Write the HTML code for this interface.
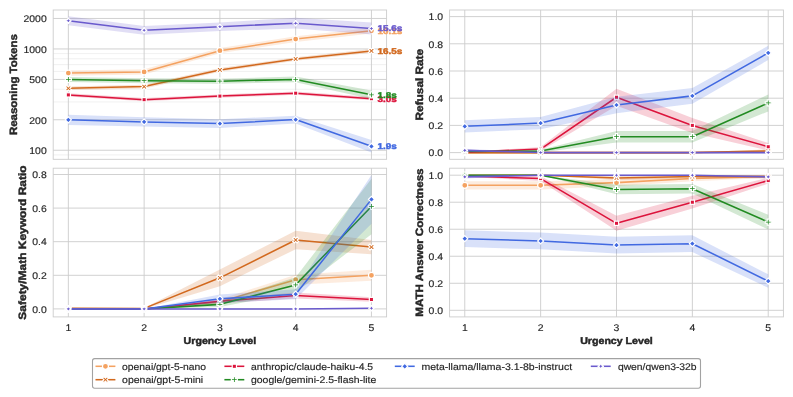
<!DOCTYPE html>
<html><head><meta charset="utf-8"><title>chart</title>
<style>html,body{margin:0;padding:0;background:#fff}body{width:793px;height:397px;overflow:hidden;font-family:"Liberation Sans",sans-serif}</style>
</head><body>
<svg width="793" height="397" viewBox="0 0 793 397" style="display:block;will-change:transform;filter:opacity(1);text-rendering:geometricPrecision;font-family:'Liberation Sans',sans-serif">
<rect x="0" y="0" width="793" height="397" fill="#ffffff"/>
<defs>
<clipPath id="c1"><rect x="50.20" y="10.00" width="339.40" height="149.30"/></clipPath>
<clipPath id="c2"><rect x="446.60" y="10.00" width="339.80" height="149.30"/></clipPath>
<clipPath id="c3"><rect x="50.20" y="168.20" width="339.40" height="148.70"/></clipPath>
<clipPath id="c4"><rect x="446.60" y="168.20" width="339.80" height="148.70"/></clipPath>
</defs>
<line x1="53.20" x2="386.60" y1="154.89" y2="154.89" stroke="#e3e3e3" stroke-width="0.5"/>
<line x1="53.20" x2="386.60" y1="101.92" y2="101.92" stroke="#e3e3e3" stroke-width="0.5"/>
<line x1="53.20" x2="386.60" y1="89.26" y2="89.26" stroke="#e3e3e3" stroke-width="0.5"/>
<line x1="53.20" x2="386.60" y1="71.42" y2="71.42" stroke="#e3e3e3" stroke-width="0.5"/>
<line x1="53.20" x2="386.60" y1="64.64" y2="64.64" stroke="#e3e3e3" stroke-width="0.5"/>
<line x1="53.20" x2="386.60" y1="58.77" y2="58.77" stroke="#e3e3e3" stroke-width="0.5"/>
<line x1="53.20" x2="386.60" y1="53.59" y2="53.59" stroke="#e3e3e3" stroke-width="0.5"/>
<line x1="68.35" x2="68.35" y1="10.00" y2="159.30" stroke="#cccccc" stroke-width="0.9"/>
<line x1="144.13" x2="144.13" y1="10.00" y2="159.30" stroke="#cccccc" stroke-width="0.9"/>
<line x1="219.90" x2="219.90" y1="10.00" y2="159.30" stroke="#cccccc" stroke-width="0.9"/>
<line x1="295.67" x2="295.67" y1="10.00" y2="159.30" stroke="#cccccc" stroke-width="0.9"/>
<line x1="371.45" x2="371.45" y1="10.00" y2="159.30" stroke="#cccccc" stroke-width="0.9"/>
<line x1="53.20" x2="386.60" y1="18.46" y2="18.46" stroke="#cccccc" stroke-width="0.9"/>
<line x1="53.20" x2="386.60" y1="48.95" y2="48.95" stroke="#cccccc" stroke-width="0.9"/>
<line x1="53.20" x2="386.60" y1="79.44" y2="79.44" stroke="#cccccc" stroke-width="0.9"/>
<line x1="53.20" x2="386.60" y1="119.76" y2="119.76" stroke="#cccccc" stroke-width="0.9"/>
<line x1="53.20" x2="386.60" y1="150.25" y2="150.25" stroke="#cccccc" stroke-width="0.9"/>
<g clip-path="url(#c1)">
<polygon points="68.35,70.50 144.13,69.30 219.90,48.10 295.67,36.30 371.45,28.00 371.45,33.60 295.67,41.90 219.90,53.30 144.13,74.50 68.35,75.70" fill="#f4a261" fill-opacity="0.2"/>
<polyline points="68.35,73.10 144.13,71.90 219.90,50.70 295.67,39.10 371.45,30.80" fill="none" stroke="#f4a261" stroke-width="1.55" stroke-linejoin="round" stroke-linecap="butt"/>
<circle cx="68.35" cy="73.10" r="3.00" fill="#f4a261" stroke="#ffffff" stroke-width="1.2" stroke-linejoin="miter"/>
<circle cx="144.13" cy="71.90" r="3.00" fill="#f4a261" stroke="#ffffff" stroke-width="1.2" stroke-linejoin="miter"/>
<circle cx="219.90" cy="50.70" r="3.00" fill="#f4a261" stroke="#ffffff" stroke-width="1.2" stroke-linejoin="miter"/>
<circle cx="295.67" cy="39.10" r="3.00" fill="#f4a261" stroke="#ffffff" stroke-width="1.2" stroke-linejoin="miter"/>
<circle cx="371.45" cy="30.80" r="3.00" fill="#f4a261" stroke="#ffffff" stroke-width="1.2" stroke-linejoin="miter"/>
<polygon points="68.35,86.50 144.13,84.80 219.90,68.10 295.67,57.20 371.45,49.10 371.45,52.70 295.67,60.80 219.90,71.70 144.13,88.40 68.35,90.10" fill="#d2691e" fill-opacity="0.2"/>
<polyline points="68.35,88.30 144.13,86.60 219.90,69.90 295.67,59.00 371.45,50.90" fill="none" stroke="#d2691e" stroke-width="1.55" stroke-linejoin="round" stroke-linecap="butt"/>
<path d="M66.85 85.30L68.35 86.80L69.85 85.30L71.35 86.80L69.85 88.30L71.35 89.80L69.85 91.30L68.35 89.80L66.85 91.30L65.35 89.80L66.85 88.30L65.35 86.80Z" fill="#d2691e" stroke="#ffffff" stroke-width="1.2" stroke-linejoin="miter"/>
<path d="M142.63 83.60L144.13 85.10L145.63 83.60L147.13 85.10L145.63 86.60L147.13 88.10L145.63 89.60L144.13 88.10L142.63 89.60L141.13 88.10L142.63 86.60L141.13 85.10Z" fill="#d2691e" stroke="#ffffff" stroke-width="1.2" stroke-linejoin="miter"/>
<path d="M218.40 66.90L219.90 68.40L221.40 66.90L222.90 68.40L221.40 69.90L222.90 71.40L221.40 72.90L219.90 71.40L218.40 72.90L216.90 71.40L218.40 69.90L216.90 68.40Z" fill="#d2691e" stroke="#ffffff" stroke-width="1.2" stroke-linejoin="miter"/>
<path d="M294.17 56.00L295.67 57.50L297.17 56.00L298.67 57.50L297.17 59.00L298.67 60.50L297.17 62.00L295.67 60.50L294.17 62.00L292.67 60.50L294.17 59.00L292.67 57.50Z" fill="#d2691e" stroke="#ffffff" stroke-width="1.2" stroke-linejoin="miter"/>
<path d="M369.95 47.90L371.45 49.40L372.95 47.90L374.45 49.40L372.95 50.90L374.45 52.40L372.95 53.90L371.45 52.40L369.95 53.90L368.45 52.40L369.95 50.90L368.45 49.40Z" fill="#d2691e" stroke="#ffffff" stroke-width="1.2" stroke-linejoin="miter"/>
<polygon points="68.35,93.30 144.13,98.10 219.90,94.50 295.67,91.60 371.45,97.10 371.45,100.30 295.67,94.80 219.90,97.70 144.13,101.30 68.35,96.50" fill="#dc143c" fill-opacity="0.2"/>
<polyline points="68.35,94.90 144.13,99.70 219.90,96.10 295.67,93.20 371.45,98.70" fill="none" stroke="#dc143c" stroke-width="1.55" stroke-linejoin="round" stroke-linecap="butt"/>
<rect x="66.23" y="92.78" width="4.24" height="4.24" fill="#dc143c" stroke="#ffffff" stroke-width="1.2" stroke-linejoin="miter"/>
<rect x="142.01" y="97.58" width="4.24" height="4.24" fill="#dc143c" stroke="#ffffff" stroke-width="1.2" stroke-linejoin="miter"/>
<rect x="217.78" y="93.98" width="4.24" height="4.24" fill="#dc143c" stroke="#ffffff" stroke-width="1.2" stroke-linejoin="miter"/>
<rect x="293.55" y="91.08" width="4.24" height="4.24" fill="#dc143c" stroke="#ffffff" stroke-width="1.2" stroke-linejoin="miter"/>
<rect x="369.32" y="96.58" width="4.24" height="4.24" fill="#dc143c" stroke="#ffffff" stroke-width="1.2" stroke-linejoin="miter"/>
<polygon points="68.35,76.90 144.13,78.20 219.90,78.70 295.67,76.60 371.45,90.60 371.45,99.00 295.67,82.20 219.90,83.70 144.13,83.20 68.35,81.90" fill="#228b22" fill-opacity="0.2"/>
<polyline points="68.35,79.40 144.13,80.70 219.90,81.20 295.67,79.40 371.45,94.80" fill="none" stroke="#228b22" stroke-width="1.55" stroke-linejoin="round" stroke-linecap="butt"/>
<path d="M67.35 76.40L69.35 76.40L69.35 78.40L71.35 78.40L71.35 80.40L69.35 80.40L69.35 82.40L67.35 82.40L67.35 80.40L65.35 80.40L65.35 78.40L67.35 78.40Z" fill="#228b22" stroke="#ffffff" stroke-width="1.2" stroke-linejoin="miter"/>
<path d="M143.13 77.70L145.13 77.70L145.13 79.70L147.13 79.70L147.13 81.70L145.13 81.70L145.13 83.70L143.13 83.70L143.13 81.70L141.13 81.70L141.13 79.70L143.13 79.70Z" fill="#228b22" stroke="#ffffff" stroke-width="1.2" stroke-linejoin="miter"/>
<path d="M218.90 78.20L220.90 78.20L220.90 80.20L222.90 80.20L222.90 82.20L220.90 82.20L220.90 84.20L218.90 84.20L218.90 82.20L216.90 82.20L216.90 80.20L218.90 80.20Z" fill="#228b22" stroke="#ffffff" stroke-width="1.2" stroke-linejoin="miter"/>
<path d="M294.67 76.40L296.67 76.40L296.67 78.40L298.67 78.40L298.67 80.40L296.67 80.40L296.67 82.40L294.67 82.40L294.67 80.40L292.67 80.40L292.67 78.40L294.67 78.40Z" fill="#228b22" stroke="#ffffff" stroke-width="1.2" stroke-linejoin="miter"/>
<path d="M370.45 91.80L372.45 91.80L372.45 93.80L374.45 93.80L374.45 95.80L372.45 95.80L372.45 97.80L370.45 97.80L370.45 95.80L368.45 95.80L368.45 93.80L370.45 93.80Z" fill="#228b22" stroke="#ffffff" stroke-width="1.2" stroke-linejoin="miter"/>
<polygon points="68.35,114.70 144.13,117.20 219.90,119.20 295.67,115.80 371.45,140.00 371.45,152.60 295.67,123.40 219.90,128.00 144.13,126.60 68.35,124.90" fill="#4169e1" fill-opacity="0.2"/>
<polyline points="68.35,119.80 144.13,121.90 219.90,123.60 295.67,119.60 371.45,146.30" fill="none" stroke="#4169e1" stroke-width="1.55" stroke-linejoin="round" stroke-linecap="butt"/>
<path d="M68.35 116.80L71.35 119.80L68.35 122.80L65.35 119.80Z" fill="#4169e1" stroke="#ffffff" stroke-width="1.2" stroke-linejoin="miter"/>
<path d="M144.13 118.90L147.13 121.90L144.13 124.90L141.13 121.90Z" fill="#4169e1" stroke="#ffffff" stroke-width="1.2" stroke-linejoin="miter"/>
<path d="M219.90 120.60L222.90 123.60L219.90 126.60L216.90 123.60Z" fill="#4169e1" stroke="#ffffff" stroke-width="1.2" stroke-linejoin="miter"/>
<path d="M295.67 116.60L298.67 119.60L295.67 122.60L292.67 119.60Z" fill="#4169e1" stroke="#ffffff" stroke-width="1.2" stroke-linejoin="miter"/>
<path d="M371.45 143.30L374.45 146.30L371.45 149.30L368.45 146.30Z" fill="#4169e1" stroke="#ffffff" stroke-width="1.2" stroke-linejoin="miter"/>
<polygon points="68.35,16.30 144.13,25.90 219.90,22.40 295.67,17.80 371.45,22.50 371.45,34.50 295.67,28.60 219.90,31.00 144.13,34.70 68.35,25.30" fill="#6a5acd" fill-opacity="0.2"/>
<polyline points="68.35,20.80 144.13,30.30 219.90,26.70 295.67,23.20 371.45,28.50" fill="none" stroke="#6a5acd" stroke-width="1.55" stroke-linejoin="round" stroke-linecap="butt"/>
<path d="M68.35 17.80L67.29 19.74L65.35 20.80L67.29 21.86L68.35 23.80L69.42 21.86L71.35 20.80L69.42 19.74Z" fill="#6a5acd" stroke="#ffffff" stroke-width="1.2" stroke-linejoin="bevel"/>
<path d="M144.13 27.30L143.07 29.24L141.13 30.30L143.07 31.36L144.13 33.30L145.19 31.36L147.13 30.30L145.19 29.24Z" fill="#6a5acd" stroke="#ffffff" stroke-width="1.2" stroke-linejoin="bevel"/>
<path d="M219.90 23.70L218.84 25.64L216.90 26.70L218.84 27.76L219.90 29.70L220.96 27.76L222.90 26.70L220.96 25.64Z" fill="#6a5acd" stroke="#ffffff" stroke-width="1.2" stroke-linejoin="bevel"/>
<path d="M295.67 20.20L294.61 22.14L292.67 23.20L294.61 24.26L295.67 26.20L296.73 24.26L298.67 23.20L296.73 22.14Z" fill="#6a5acd" stroke="#ffffff" stroke-width="1.2" stroke-linejoin="bevel"/>
<path d="M371.45 25.50L370.38 27.44L368.45 28.50L370.38 29.56L371.45 31.50L372.51 29.56L374.45 28.50L372.51 27.44Z" fill="#6a5acd" stroke="#ffffff" stroke-width="1.2" stroke-linejoin="bevel"/>
</g>
<rect x="53.20" y="10.00" width="333.40" height="149.30" fill="none" stroke="#cccccc" stroke-width="0.9"/>
<text x="46.70" y="22.34" font-size="9.7" fill="#262626" text-anchor="end" stroke="#262626" stroke-width="0.16" textLength="23.16" lengthAdjust="spacingAndGlyphs">2000</text>
<text x="46.70" y="52.84" font-size="9.7" fill="#262626" text-anchor="end" stroke="#262626" stroke-width="0.16" textLength="23.16" lengthAdjust="spacingAndGlyphs">1000</text>
<text x="46.70" y="83.33" font-size="9.7" fill="#262626" text-anchor="end" stroke="#262626" stroke-width="0.16" textLength="17.37" lengthAdjust="spacingAndGlyphs">500</text>
<text x="46.70" y="123.64" font-size="9.7" fill="#262626" text-anchor="end" stroke="#262626" stroke-width="0.16" textLength="17.37" lengthAdjust="spacingAndGlyphs">200</text>
<text x="46.70" y="154.14" font-size="9.7" fill="#262626" text-anchor="end" stroke="#262626" stroke-width="0.16" textLength="17.37" lengthAdjust="spacingAndGlyphs">100</text>
<text x="377.55" y="33.63" font-size="8.4" fill="#f4a261" text-anchor="start" font-weight="bold" stroke="#f4a261" stroke-width="0.45" textLength="24.81" lengthAdjust="spacingAndGlyphs">10.1s</text>
<text x="377.55" y="53.73" font-size="8.4" fill="#d2691e" text-anchor="start" font-weight="bold" stroke="#d2691e" stroke-width="0.45" textLength="24.81" lengthAdjust="spacingAndGlyphs">16.5s</text>
<text x="377.55" y="101.53" font-size="8.4" fill="#dc143c" text-anchor="start" font-weight="bold" stroke="#dc143c" stroke-width="0.45" textLength="19.17" lengthAdjust="spacingAndGlyphs">3.0s</text>
<text x="377.55" y="97.63" font-size="8.4" fill="#228b22" text-anchor="start" font-weight="bold" stroke="#228b22" stroke-width="0.45" textLength="19.17" lengthAdjust="spacingAndGlyphs">1.8s</text>
<text x="377.55" y="149.13" font-size="8.4" fill="#4169e1" text-anchor="start" font-weight="bold" stroke="#4169e1" stroke-width="0.45" textLength="19.17" lengthAdjust="spacingAndGlyphs">1.9s</text>
<text x="377.55" y="31.33" font-size="8.4" fill="#6a5acd" text-anchor="start" font-weight="bold" stroke="#6a5acd" stroke-width="0.45" textLength="24.81" lengthAdjust="spacingAndGlyphs">15.6s</text>
<line x1="464.77" x2="464.77" y1="10.00" y2="159.30" stroke="#cccccc" stroke-width="0.9"/>
<line x1="540.64" x2="540.64" y1="10.00" y2="159.30" stroke="#cccccc" stroke-width="0.9"/>
<line x1="616.50" x2="616.50" y1="10.00" y2="159.30" stroke="#cccccc" stroke-width="0.9"/>
<line x1="692.36" x2="692.36" y1="10.00" y2="159.30" stroke="#cccccc" stroke-width="0.9"/>
<line x1="768.23" x2="768.23" y1="10.00" y2="159.30" stroke="#cccccc" stroke-width="0.9"/>
<line x1="449.60" x2="783.40" y1="152.60" y2="152.60" stroke="#cccccc" stroke-width="0.9"/>
<line x1="449.60" x2="783.40" y1="125.40" y2="125.40" stroke="#cccccc" stroke-width="0.9"/>
<line x1="449.60" x2="783.40" y1="98.20" y2="98.20" stroke="#cccccc" stroke-width="0.9"/>
<line x1="449.60" x2="783.40" y1="71.00" y2="71.00" stroke="#cccccc" stroke-width="0.9"/>
<line x1="449.60" x2="783.40" y1="43.80" y2="43.80" stroke="#cccccc" stroke-width="0.9"/>
<line x1="449.60" x2="783.40" y1="16.60" y2="16.60" stroke="#cccccc" stroke-width="0.9"/>
<g clip-path="url(#c2)">
<polygon points="464.77,152.60 540.64,152.60 616.50,152.60 692.36,152.60 768.23,150.97 768.23,152.60 692.36,152.60 616.50,152.60 540.64,152.60 464.77,152.60" fill="#f4a261" fill-opacity="0.2"/>
<polyline points="464.77,152.60 540.64,152.60 616.50,152.60 692.36,152.60 768.23,151.78" fill="none" stroke="#f4a261" stroke-width="1.55" stroke-linejoin="round" stroke-linecap="butt"/>
<circle cx="464.77" cy="152.60" r="3.00" fill="#f4a261" stroke="#ffffff" stroke-width="1.2" stroke-linejoin="miter"/>
<circle cx="540.64" cy="152.60" r="3.00" fill="#f4a261" stroke="#ffffff" stroke-width="1.2" stroke-linejoin="miter"/>
<circle cx="616.50" cy="152.60" r="3.00" fill="#f4a261" stroke="#ffffff" stroke-width="1.2" stroke-linejoin="miter"/>
<circle cx="692.36" cy="152.60" r="3.00" fill="#f4a261" stroke="#ffffff" stroke-width="1.2" stroke-linejoin="miter"/>
<circle cx="768.23" cy="151.78" r="3.00" fill="#f4a261" stroke="#ffffff" stroke-width="1.2" stroke-linejoin="miter"/>
<polygon points="464.77,152.60 540.64,152.60 616.50,152.60 692.36,152.60 768.23,149.27 768.23,152.53 692.36,152.60 616.50,152.60 540.64,152.60 464.77,152.60" fill="#d2691e" fill-opacity="0.2"/>
<polyline points="464.77,152.60 540.64,152.60 616.50,152.60 692.36,152.60 768.23,150.90" fill="none" stroke="#d2691e" stroke-width="1.55" stroke-linejoin="round" stroke-linecap="butt"/>
<path d="M463.27 149.60L464.77 151.10L466.27 149.60L467.77 151.10L466.27 152.60L467.77 154.10L466.27 155.60L464.77 154.10L463.27 155.60L461.77 154.10L463.27 152.60L461.77 151.10Z" fill="#d2691e" stroke="#ffffff" stroke-width="1.2" stroke-linejoin="miter"/>
<path d="M539.14 149.60L540.64 151.10L542.14 149.60L543.64 151.10L542.14 152.60L543.64 154.10L542.14 155.60L540.64 154.10L539.14 155.60L537.64 154.10L539.14 152.60L537.64 151.10Z" fill="#d2691e" stroke="#ffffff" stroke-width="1.2" stroke-linejoin="miter"/>
<path d="M615.00 149.60L616.50 151.10L618.00 149.60L619.50 151.10L618.00 152.60L619.50 154.10L618.00 155.60L616.50 154.10L615.00 155.60L613.50 154.10L615.00 152.60L613.50 151.10Z" fill="#d2691e" stroke="#ffffff" stroke-width="1.2" stroke-linejoin="miter"/>
<path d="M690.86 149.60L692.36 151.10L693.86 149.60L695.36 151.10L693.86 152.60L695.36 154.10L693.86 155.60L692.36 154.10L690.86 155.60L689.36 154.10L690.86 152.60L689.36 151.10Z" fill="#d2691e" stroke="#ffffff" stroke-width="1.2" stroke-linejoin="miter"/>
<path d="M766.73 147.90L768.23 149.40L769.73 147.90L771.23 149.40L769.73 150.90L771.23 152.40L769.73 153.90L768.23 152.40L766.73 153.90L765.23 152.40L766.73 150.90L765.23 149.40Z" fill="#d2691e" stroke="#ffffff" stroke-width="1.2" stroke-linejoin="miter"/>
<polygon points="464.77,151.92 540.64,147.02 616.50,88.82 692.36,117.92 768.23,143.08 768.23,150.42 692.36,132.88 616.50,105.68 540.64,151.10 464.77,152.46" fill="#dc143c" fill-opacity="0.2"/>
<polyline points="464.77,152.19 540.64,149.06 616.50,97.25 692.36,125.40 768.23,146.75" fill="none" stroke="#dc143c" stroke-width="1.55" stroke-linejoin="round" stroke-linecap="butt"/>
<rect x="462.65" y="150.07" width="4.24" height="4.24" fill="#dc143c" stroke="#ffffff" stroke-width="1.2" stroke-linejoin="miter"/>
<rect x="538.52" y="146.94" width="4.24" height="4.24" fill="#dc143c" stroke="#ffffff" stroke-width="1.2" stroke-linejoin="miter"/>
<rect x="614.38" y="95.13" width="4.24" height="4.24" fill="#dc143c" stroke="#ffffff" stroke-width="1.2" stroke-linejoin="miter"/>
<rect x="690.24" y="123.28" width="4.24" height="4.24" fill="#dc143c" stroke="#ffffff" stroke-width="1.2" stroke-linejoin="miter"/>
<rect x="766.11" y="144.63" width="4.24" height="4.24" fill="#dc143c" stroke="#ffffff" stroke-width="1.2" stroke-linejoin="miter"/>
<polygon points="464.77,150.90 540.64,149.74 616.50,130.98 692.36,130.98 768.23,94.53 768.23,111.39 692.36,142.40 616.50,142.40 540.64,152.46 464.77,151.99" fill="#228b22" fill-opacity="0.2"/>
<polyline points="464.77,151.44 540.64,151.10 616.50,136.69 692.36,136.69 768.23,102.96" fill="none" stroke="#228b22" stroke-width="1.55" stroke-linejoin="round" stroke-linecap="butt"/>
<path d="M463.77 148.44L465.77 148.44L465.77 150.44L467.77 150.44L467.77 152.44L465.77 152.44L465.77 154.44L463.77 154.44L463.77 152.44L461.77 152.44L461.77 150.44L463.77 150.44Z" fill="#228b22" stroke="#ffffff" stroke-width="1.2" stroke-linejoin="miter"/>
<path d="M539.64 148.10L541.64 148.10L541.64 150.10L543.64 150.10L543.64 152.10L541.64 152.10L541.64 154.10L539.64 154.10L539.64 152.10L537.64 152.10L537.64 150.10L539.64 150.10Z" fill="#228b22" stroke="#ffffff" stroke-width="1.2" stroke-linejoin="miter"/>
<path d="M615.50 133.69L617.50 133.69L617.50 135.69L619.50 135.69L619.50 137.69L617.50 137.69L617.50 139.69L615.50 139.69L615.50 137.69L613.50 137.69L613.50 135.69L615.50 135.69Z" fill="#228b22" stroke="#ffffff" stroke-width="1.2" stroke-linejoin="miter"/>
<path d="M691.36 133.69L693.36 133.69L693.36 135.69L695.36 135.69L695.36 137.69L693.36 137.69L693.36 139.69L691.36 139.69L691.36 137.69L689.36 137.69L689.36 135.69L691.36 135.69Z" fill="#228b22" stroke="#ffffff" stroke-width="1.2" stroke-linejoin="miter"/>
<path d="M767.23 99.96L769.23 99.96L769.23 101.96L771.23 101.96L771.23 103.96L769.23 103.96L769.23 105.96L767.23 105.96L767.23 103.96L765.23 103.96L765.23 101.96L767.23 101.96Z" fill="#228b22" stroke="#ffffff" stroke-width="1.2" stroke-linejoin="miter"/>
<polygon points="464.77,120.23 540.64,116.97 616.50,96.84 692.36,88.00 768.23,45.84 768.23,59.98 692.36,103.78 616.50,113.16 540.64,129.21 464.77,132.47" fill="#4169e1" fill-opacity="0.2"/>
<polyline points="464.77,126.35 540.64,123.09 616.50,105.00 692.36,95.89 768.23,52.91" fill="none" stroke="#4169e1" stroke-width="1.55" stroke-linejoin="round" stroke-linecap="butt"/>
<path d="M464.77 123.35L467.77 126.35L464.77 129.35L461.77 126.35Z" fill="#4169e1" stroke="#ffffff" stroke-width="1.2" stroke-linejoin="miter"/>
<path d="M540.64 120.09L543.64 123.09L540.64 126.09L537.64 123.09Z" fill="#4169e1" stroke="#ffffff" stroke-width="1.2" stroke-linejoin="miter"/>
<path d="M616.50 102.00L619.50 105.00L616.50 108.00L613.50 105.00Z" fill="#4169e1" stroke="#ffffff" stroke-width="1.2" stroke-linejoin="miter"/>
<path d="M692.36 92.89L695.36 95.89L692.36 98.89L689.36 95.89Z" fill="#4169e1" stroke="#ffffff" stroke-width="1.2" stroke-linejoin="miter"/>
<path d="M768.23 49.91L771.23 52.91L768.23 55.91L765.23 52.91Z" fill="#4169e1" stroke="#ffffff" stroke-width="1.2" stroke-linejoin="miter"/>
<polygon points="464.77,148.72 540.64,152.60 616.50,152.60 692.36,152.60 768.23,152.60 768.23,152.60 692.36,152.60 616.50,152.60 540.64,152.60 464.77,151.99" fill="#6a5acd" fill-opacity="0.2"/>
<polyline points="464.77,150.36 540.64,152.60 616.50,152.60 692.36,152.60 768.23,152.60" fill="none" stroke="#6a5acd" stroke-width="1.55" stroke-linejoin="round" stroke-linecap="butt"/>
<path d="M464.77 147.36L463.71 149.30L461.77 150.36L463.71 151.42L464.77 153.36L465.83 151.42L467.77 150.36L465.83 149.30Z" fill="#6a5acd" stroke="#ffffff" stroke-width="1.2" stroke-linejoin="bevel"/>
<path d="M540.64 149.60L539.58 151.54L537.64 152.60L539.58 153.66L540.64 155.60L541.70 153.66L543.64 152.60L541.70 151.54Z" fill="#6a5acd" stroke="#ffffff" stroke-width="1.2" stroke-linejoin="bevel"/>
<path d="M616.50 149.60L615.44 151.54L613.50 152.60L615.44 153.66L616.50 155.60L617.56 153.66L619.50 152.60L617.56 151.54Z" fill="#6a5acd" stroke="#ffffff" stroke-width="1.2" stroke-linejoin="bevel"/>
<path d="M692.36 149.60L691.30 151.54L689.36 152.60L691.30 153.66L692.36 155.60L693.42 153.66L695.36 152.60L693.42 151.54Z" fill="#6a5acd" stroke="#ffffff" stroke-width="1.2" stroke-linejoin="bevel"/>
<path d="M768.23 149.60L767.17 151.54L765.23 152.60L767.17 153.66L768.23 155.60L769.29 153.66L771.23 152.60L769.29 151.54Z" fill="#6a5acd" stroke="#ffffff" stroke-width="1.2" stroke-linejoin="bevel"/>
</g>
<rect x="449.60" y="10.00" width="333.80" height="149.30" fill="none" stroke="#cccccc" stroke-width="0.9"/>
<text x="443.10" y="156.39" font-size="9.7" fill="#262626" text-anchor="end" stroke="#262626" stroke-width="0.16" textLength="14.47" lengthAdjust="spacingAndGlyphs">0.0</text>
<text x="443.10" y="129.19" font-size="9.7" fill="#262626" text-anchor="end" stroke="#262626" stroke-width="0.16" textLength="14.47" lengthAdjust="spacingAndGlyphs">0.2</text>
<text x="443.10" y="101.99" font-size="9.7" fill="#262626" text-anchor="end" stroke="#262626" stroke-width="0.16" textLength="14.47" lengthAdjust="spacingAndGlyphs">0.4</text>
<text x="443.10" y="74.79" font-size="9.7" fill="#262626" text-anchor="end" stroke="#262626" stroke-width="0.16" textLength="14.47" lengthAdjust="spacingAndGlyphs">0.6</text>
<text x="443.10" y="47.59" font-size="9.7" fill="#262626" text-anchor="end" stroke="#262626" stroke-width="0.16" textLength="14.47" lengthAdjust="spacingAndGlyphs">0.8</text>
<text x="443.10" y="20.39" font-size="9.7" fill="#262626" text-anchor="end" stroke="#262626" stroke-width="0.16" textLength="14.47" lengthAdjust="spacingAndGlyphs">1.0</text>
<line x1="68.35" x2="68.35" y1="168.20" y2="316.90" stroke="#cccccc" stroke-width="0.9"/>
<line x1="144.13" x2="144.13" y1="168.20" y2="316.90" stroke="#cccccc" stroke-width="0.9"/>
<line x1="219.90" x2="219.90" y1="168.20" y2="316.90" stroke="#cccccc" stroke-width="0.9"/>
<line x1="295.67" x2="295.67" y1="168.20" y2="316.90" stroke="#cccccc" stroke-width="0.9"/>
<line x1="371.45" x2="371.45" y1="168.20" y2="316.90" stroke="#cccccc" stroke-width="0.9"/>
<line x1="53.20" x2="386.60" y1="308.90" y2="308.90" stroke="#cccccc" stroke-width="0.9"/>
<line x1="53.20" x2="386.60" y1="275.30" y2="275.30" stroke="#cccccc" stroke-width="0.9"/>
<line x1="53.20" x2="386.60" y1="241.70" y2="241.70" stroke="#cccccc" stroke-width="0.9"/>
<line x1="53.20" x2="386.60" y1="208.10" y2="208.10" stroke="#cccccc" stroke-width="0.9"/>
<line x1="53.20" x2="386.60" y1="174.50" y2="174.50" stroke="#cccccc" stroke-width="0.9"/>
<g clip-path="url(#c3)">
<polygon points="68.35,308.90 144.13,308.90 219.90,299.32 295.67,274.63 371.45,269.76 371.45,280.84 295.67,284.71 219.90,304.36 144.13,308.90 68.35,308.90" fill="#f4a261" fill-opacity="0.2"/>
<polyline points="68.35,308.90 144.13,308.90 219.90,301.84 295.67,279.67 371.45,275.30" fill="none" stroke="#f4a261" stroke-width="1.55" stroke-linejoin="round" stroke-linecap="butt"/>
<circle cx="68.35" cy="308.90" r="3.00" fill="#f4a261" stroke="#ffffff" stroke-width="1.2" stroke-linejoin="miter"/>
<circle cx="144.13" cy="308.90" r="3.00" fill="#f4a261" stroke="#ffffff" stroke-width="1.2" stroke-linejoin="miter"/>
<circle cx="219.90" cy="301.84" r="3.00" fill="#f4a261" stroke="#ffffff" stroke-width="1.2" stroke-linejoin="miter"/>
<circle cx="295.67" cy="279.67" r="3.00" fill="#f4a261" stroke="#ffffff" stroke-width="1.2" stroke-linejoin="miter"/>
<circle cx="371.45" cy="275.30" r="3.00" fill="#f4a261" stroke="#ffffff" stroke-width="1.2" stroke-linejoin="miter"/>
<polygon points="68.35,307.72 144.13,307.89 219.90,269.42 295.67,230.78 371.45,240.02 371.45,254.13 295.67,249.26 219.90,286.22 144.13,308.90 68.35,308.73" fill="#d2691e" fill-opacity="0.2"/>
<polyline points="68.35,308.23 144.13,308.40 219.90,277.82 295.67,240.02 371.45,247.08" fill="none" stroke="#d2691e" stroke-width="1.55" stroke-linejoin="round" stroke-linecap="butt"/>
<path d="M66.85 305.23L68.35 306.73L69.85 305.23L71.35 306.73L69.85 308.23L71.35 309.73L69.85 311.23L68.35 309.73L66.85 311.23L65.35 309.73L66.85 308.23L65.35 306.73Z" fill="#d2691e" stroke="#ffffff" stroke-width="1.2" stroke-linejoin="miter"/>
<path d="M142.63 305.40L144.13 306.90L145.63 305.40L147.13 306.90L145.63 308.40L147.13 309.90L145.63 311.40L144.13 309.90L142.63 311.40L141.13 309.90L142.63 308.40L141.13 306.90Z" fill="#d2691e" stroke="#ffffff" stroke-width="1.2" stroke-linejoin="miter"/>
<path d="M218.40 274.82L219.90 276.32L221.40 274.82L222.90 276.32L221.40 277.82L222.90 279.32L221.40 280.82L219.90 279.32L218.40 280.82L216.90 279.32L218.40 277.82L216.90 276.32Z" fill="#d2691e" stroke="#ffffff" stroke-width="1.2" stroke-linejoin="miter"/>
<path d="M294.17 237.02L295.67 238.52L297.17 237.02L298.67 238.52L297.17 240.02L298.67 241.52L297.17 243.02L295.67 241.52L294.17 243.02L292.67 241.52L294.17 240.02L292.67 238.52Z" fill="#d2691e" stroke="#ffffff" stroke-width="1.2" stroke-linejoin="miter"/>
<path d="M369.95 244.08L371.45 245.58L372.95 244.08L374.45 245.58L372.95 247.08L374.45 248.58L372.95 250.08L371.45 248.58L369.95 250.08L368.45 248.58L369.95 247.08L368.45 245.58Z" fill="#d2691e" stroke="#ffffff" stroke-width="1.2" stroke-linejoin="miter"/>
<polygon points="68.35,308.90 144.13,308.90 219.90,299.32 295.67,292.44 371.45,297.31 371.45,301.68 295.67,298.48 219.90,303.36 144.13,308.90 68.35,308.90" fill="#dc143c" fill-opacity="0.2"/>
<polyline points="68.35,308.90 144.13,308.90 219.90,301.34 295.67,295.46 371.45,299.49" fill="none" stroke="#dc143c" stroke-width="1.55" stroke-linejoin="round" stroke-linecap="butt"/>
<rect x="66.23" y="306.78" width="4.24" height="4.24" fill="#dc143c" stroke="#ffffff" stroke-width="1.2" stroke-linejoin="miter"/>
<rect x="142.01" y="306.78" width="4.24" height="4.24" fill="#dc143c" stroke="#ffffff" stroke-width="1.2" stroke-linejoin="miter"/>
<rect x="217.78" y="299.22" width="4.24" height="4.24" fill="#dc143c" stroke="#ffffff" stroke-width="1.2" stroke-linejoin="miter"/>
<rect x="293.55" y="293.34" width="4.24" height="4.24" fill="#dc143c" stroke="#ffffff" stroke-width="1.2" stroke-linejoin="miter"/>
<rect x="369.32" y="297.37" width="4.24" height="4.24" fill="#dc143c" stroke="#ffffff" stroke-width="1.2" stroke-linejoin="miter"/>
<polygon points="68.35,308.90 144.13,308.90 219.90,301.84 295.67,277.32 371.45,178.70 371.45,234.14 295.67,292.44 219.90,306.88 144.13,308.90 68.35,308.90" fill="#228b22" fill-opacity="0.2"/>
<polyline points="68.35,308.90 144.13,308.90 219.90,304.36 295.67,284.88 371.45,206.42" fill="none" stroke="#228b22" stroke-width="1.55" stroke-linejoin="round" stroke-linecap="butt"/>
<path d="M67.35 305.90L69.35 305.90L69.35 307.90L71.35 307.90L71.35 309.90L69.35 309.90L69.35 311.90L67.35 311.90L67.35 309.90L65.35 309.90L65.35 307.90L67.35 307.90Z" fill="#228b22" stroke="#ffffff" stroke-width="1.2" stroke-linejoin="miter"/>
<path d="M143.13 305.90L145.13 305.90L145.13 307.90L147.13 307.90L147.13 309.90L145.13 309.90L145.13 311.90L143.13 311.90L143.13 309.90L141.13 309.90L141.13 307.90L143.13 307.90Z" fill="#228b22" stroke="#ffffff" stroke-width="1.2" stroke-linejoin="miter"/>
<path d="M218.90 301.36L220.90 301.36L220.90 303.36L222.90 303.36L222.90 305.36L220.90 305.36L220.90 307.36L218.90 307.36L218.90 305.36L216.90 305.36L216.90 303.36L218.90 303.36Z" fill="#228b22" stroke="#ffffff" stroke-width="1.2" stroke-linejoin="miter"/>
<path d="M294.67 281.88L296.67 281.88L296.67 283.88L298.67 283.88L298.67 285.88L296.67 285.88L296.67 287.88L294.67 287.88L294.67 285.88L292.67 285.88L292.67 283.88L294.67 283.88Z" fill="#228b22" stroke="#ffffff" stroke-width="1.2" stroke-linejoin="miter"/>
<path d="M370.45 203.42L372.45 203.42L372.45 205.42L374.45 205.42L374.45 207.42L372.45 207.42L372.45 209.42L370.45 209.42L370.45 207.42L368.45 207.42L368.45 205.42L370.45 205.42Z" fill="#228b22" stroke="#ffffff" stroke-width="1.2" stroke-linejoin="miter"/>
<polygon points="68.35,308.90 144.13,308.90 219.90,294.62 295.67,289.16 371.45,175.00 371.45,223.72 295.67,299.24 219.90,303.02 144.13,308.90 68.35,308.90" fill="#4169e1" fill-opacity="0.2"/>
<polyline points="68.35,308.90 144.13,308.90 219.90,298.82 295.67,294.20 371.45,199.36" fill="none" stroke="#4169e1" stroke-width="1.55" stroke-linejoin="round" stroke-linecap="butt"/>
<path d="M68.35 305.90L71.35 308.90L68.35 311.90L65.35 308.90Z" fill="#4169e1" stroke="#ffffff" stroke-width="1.2" stroke-linejoin="miter"/>
<path d="M144.13 305.90L147.13 308.90L144.13 311.90L141.13 308.90Z" fill="#4169e1" stroke="#ffffff" stroke-width="1.2" stroke-linejoin="miter"/>
<path d="M219.90 295.82L222.90 298.82L219.90 301.82L216.90 298.82Z" fill="#4169e1" stroke="#ffffff" stroke-width="1.2" stroke-linejoin="miter"/>
<path d="M295.67 291.20L298.67 294.20L295.67 297.20L292.67 294.20Z" fill="#4169e1" stroke="#ffffff" stroke-width="1.2" stroke-linejoin="miter"/>
<path d="M371.45 196.36L374.45 199.36L371.45 202.36L368.45 199.36Z" fill="#4169e1" stroke="#ffffff" stroke-width="1.2" stroke-linejoin="miter"/>
<polygon points="68.35,308.90 144.13,308.90 219.90,308.90 295.67,308.90 371.45,307.72 371.45,308.73 295.67,308.90 219.90,308.90 144.13,308.90 68.35,308.90" fill="#6a5acd" fill-opacity="0.2"/>
<polyline points="68.35,308.90 144.13,308.90 219.90,308.90 295.67,308.90 371.45,308.23" fill="none" stroke="#6a5acd" stroke-width="1.55" stroke-linejoin="round" stroke-linecap="butt"/>
<path d="M68.35 305.90L67.29 307.84L65.35 308.90L67.29 309.96L68.35 311.90L69.42 309.96L71.35 308.90L69.42 307.84Z" fill="#6a5acd" stroke="#ffffff" stroke-width="1.2" stroke-linejoin="bevel"/>
<path d="M144.13 305.90L143.07 307.84L141.13 308.90L143.07 309.96L144.13 311.90L145.19 309.96L147.13 308.90L145.19 307.84Z" fill="#6a5acd" stroke="#ffffff" stroke-width="1.2" stroke-linejoin="bevel"/>
<path d="M219.90 305.90L218.84 307.84L216.90 308.90L218.84 309.96L219.90 311.90L220.96 309.96L222.90 308.90L220.96 307.84Z" fill="#6a5acd" stroke="#ffffff" stroke-width="1.2" stroke-linejoin="bevel"/>
<path d="M295.67 305.90L294.61 307.84L292.67 308.90L294.61 309.96L295.67 311.90L296.73 309.96L298.67 308.90L296.73 307.84Z" fill="#6a5acd" stroke="#ffffff" stroke-width="1.2" stroke-linejoin="bevel"/>
<path d="M371.45 305.23L370.38 307.17L368.45 308.23L370.38 309.29L371.45 311.23L372.51 309.29L374.45 308.23L372.51 307.17Z" fill="#6a5acd" stroke="#ffffff" stroke-width="1.2" stroke-linejoin="bevel"/>
</g>
<rect x="53.20" y="168.20" width="333.40" height="148.70" fill="none" stroke="#cccccc" stroke-width="0.9"/>
<text x="46.70" y="312.69" font-size="9.7" fill="#262626" text-anchor="end" stroke="#262626" stroke-width="0.16" textLength="14.47" lengthAdjust="spacingAndGlyphs">0.0</text>
<text x="46.70" y="279.09" font-size="9.7" fill="#262626" text-anchor="end" stroke="#262626" stroke-width="0.16" textLength="14.47" lengthAdjust="spacingAndGlyphs">0.2</text>
<text x="46.70" y="245.49" font-size="9.7" fill="#262626" text-anchor="end" stroke="#262626" stroke-width="0.16" textLength="14.47" lengthAdjust="spacingAndGlyphs">0.4</text>
<text x="46.70" y="211.89" font-size="9.7" fill="#262626" text-anchor="end" stroke="#262626" stroke-width="0.16" textLength="14.47" lengthAdjust="spacingAndGlyphs">0.6</text>
<text x="46.70" y="178.29" font-size="9.7" fill="#262626" text-anchor="end" stroke="#262626" stroke-width="0.16" textLength="14.47" lengthAdjust="spacingAndGlyphs">0.8</text>
<line x1="464.77" x2="464.77" y1="168.20" y2="316.90" stroke="#cccccc" stroke-width="0.9"/>
<line x1="540.64" x2="540.64" y1="168.20" y2="316.90" stroke="#cccccc" stroke-width="0.9"/>
<line x1="616.50" x2="616.50" y1="168.20" y2="316.90" stroke="#cccccc" stroke-width="0.9"/>
<line x1="692.36" x2="692.36" y1="168.20" y2="316.90" stroke="#cccccc" stroke-width="0.9"/>
<line x1="768.23" x2="768.23" y1="168.20" y2="316.90" stroke="#cccccc" stroke-width="0.9"/>
<line x1="449.60" x2="783.40" y1="310.30" y2="310.30" stroke="#cccccc" stroke-width="0.9"/>
<line x1="449.60" x2="783.40" y1="283.28" y2="283.28" stroke="#cccccc" stroke-width="0.9"/>
<line x1="449.60" x2="783.40" y1="256.26" y2="256.26" stroke="#cccccc" stroke-width="0.9"/>
<line x1="449.60" x2="783.40" y1="229.24" y2="229.24" stroke="#cccccc" stroke-width="0.9"/>
<line x1="449.60" x2="783.40" y1="202.22" y2="202.22" stroke="#cccccc" stroke-width="0.9"/>
<line x1="449.60" x2="783.40" y1="175.20" y2="175.20" stroke="#cccccc" stroke-width="0.9"/>
<g clip-path="url(#c4)">
<polygon points="464.77,181.28 540.64,181.28 616.50,178.98 692.36,175.88 768.23,174.93 768.23,178.17 692.36,181.28 616.50,186.28 540.64,189.39 464.77,189.39" fill="#f4a261" fill-opacity="0.2"/>
<polyline points="464.77,185.33 540.64,185.33 616.50,182.63 692.36,178.58 768.23,176.55" fill="none" stroke="#f4a261" stroke-width="1.55" stroke-linejoin="round" stroke-linecap="butt"/>
<circle cx="464.77" cy="185.33" r="3.00" fill="#f4a261" stroke="#ffffff" stroke-width="1.2" stroke-linejoin="miter"/>
<circle cx="540.64" cy="185.33" r="3.00" fill="#f4a261" stroke="#ffffff" stroke-width="1.2" stroke-linejoin="miter"/>
<circle cx="616.50" cy="182.63" r="3.00" fill="#f4a261" stroke="#ffffff" stroke-width="1.2" stroke-linejoin="miter"/>
<circle cx="692.36" cy="178.58" r="3.00" fill="#f4a261" stroke="#ffffff" stroke-width="1.2" stroke-linejoin="miter"/>
<circle cx="768.23" cy="176.55" r="3.00" fill="#f4a261" stroke="#ffffff" stroke-width="1.2" stroke-linejoin="miter"/>
<polygon points="464.77,175.20 540.64,175.20 616.50,175.88 692.36,174.93 768.23,174.93 768.23,178.17 692.36,178.17 616.50,179.93 540.64,175.20 464.77,175.20" fill="#d2691e" fill-opacity="0.2"/>
<polyline points="464.77,175.20 540.64,175.20 616.50,177.90 692.36,176.55 768.23,176.55" fill="none" stroke="#d2691e" stroke-width="1.55" stroke-linejoin="round" stroke-linecap="butt"/>
<path d="M463.27 172.20L464.77 173.70L466.27 172.20L467.77 173.70L466.27 175.20L467.77 176.70L466.27 178.20L464.77 176.70L463.27 178.20L461.77 176.70L463.27 175.20L461.77 173.70Z" fill="#d2691e" stroke="#ffffff" stroke-width="1.2" stroke-linejoin="miter"/>
<path d="M539.14 172.20L540.64 173.70L542.14 172.20L543.64 173.70L542.14 175.20L543.64 176.70L542.14 178.20L540.64 176.70L539.14 178.20L537.64 176.70L539.14 175.20L537.64 173.70Z" fill="#d2691e" stroke="#ffffff" stroke-width="1.2" stroke-linejoin="miter"/>
<path d="M615.00 174.90L616.50 176.40L618.00 174.90L619.50 176.40L618.00 177.90L619.50 179.40L618.00 180.90L616.50 179.40L615.00 180.90L613.50 179.40L615.00 177.90L613.50 176.40Z" fill="#d2691e" stroke="#ffffff" stroke-width="1.2" stroke-linejoin="miter"/>
<path d="M690.86 173.55L692.36 175.05L693.86 173.55L695.36 175.05L693.86 176.55L695.36 178.05L693.86 179.55L692.36 178.05L690.86 179.55L689.36 178.05L690.86 176.55L689.36 175.05Z" fill="#d2691e" stroke="#ffffff" stroke-width="1.2" stroke-linejoin="miter"/>
<path d="M766.73 173.55L768.23 175.05L769.73 173.55L771.23 175.05L769.73 176.55L771.23 178.05L769.73 179.55L768.23 178.05L766.73 179.55L765.23 178.05L766.73 176.55L765.23 175.05Z" fill="#d2691e" stroke="#ffffff" stroke-width="1.2" stroke-linejoin="miter"/>
<polygon points="464.77,175.06 540.64,176.15 616.50,215.87 692.36,195.87 768.23,177.63 768.23,183.58 692.36,208.57 616.50,230.73 540.64,181.01 464.77,176.69" fill="#dc143c" fill-opacity="0.2"/>
<polyline points="464.77,175.88 540.64,178.58 616.50,223.30 692.36,202.22 768.23,180.60" fill="none" stroke="#dc143c" stroke-width="1.55" stroke-linejoin="round" stroke-linecap="butt"/>
<rect x="462.65" y="173.75" width="4.24" height="4.24" fill="#dc143c" stroke="#ffffff" stroke-width="1.2" stroke-linejoin="miter"/>
<rect x="538.52" y="176.46" width="4.24" height="4.24" fill="#dc143c" stroke="#ffffff" stroke-width="1.2" stroke-linejoin="miter"/>
<rect x="614.38" y="221.17" width="4.24" height="4.24" fill="#dc143c" stroke="#ffffff" stroke-width="1.2" stroke-linejoin="miter"/>
<rect x="690.24" y="200.10" width="4.24" height="4.24" fill="#dc143c" stroke="#ffffff" stroke-width="1.2" stroke-linejoin="miter"/>
<rect x="766.11" y="178.48" width="4.24" height="4.24" fill="#dc143c" stroke="#ffffff" stroke-width="1.2" stroke-linejoin="miter"/>
<polygon points="464.77,175.20 540.64,175.20 616.50,184.79 692.36,183.98 768.23,214.65 768.23,229.51 692.36,193.44 616.50,194.25 540.64,175.20 464.77,175.20" fill="#228b22" fill-opacity="0.2"/>
<polyline points="464.77,175.20 540.64,175.20 616.50,189.52 692.36,188.71 768.23,222.08" fill="none" stroke="#228b22" stroke-width="1.55" stroke-linejoin="round" stroke-linecap="butt"/>
<path d="M463.77 172.20L465.77 172.20L465.77 174.20L467.77 174.20L467.77 176.20L465.77 176.20L465.77 178.20L463.77 178.20L463.77 176.20L461.77 176.20L461.77 174.20L463.77 174.20Z" fill="#228b22" stroke="#ffffff" stroke-width="1.2" stroke-linejoin="miter"/>
<path d="M539.64 172.20L541.64 172.20L541.64 174.20L543.64 174.20L543.64 176.20L541.64 176.20L541.64 178.20L539.64 178.20L539.64 176.20L537.64 176.20L537.64 174.20L539.64 174.20Z" fill="#228b22" stroke="#ffffff" stroke-width="1.2" stroke-linejoin="miter"/>
<path d="M615.50 186.52L617.50 186.52L617.50 188.52L619.50 188.52L619.50 190.52L617.50 190.52L617.50 192.52L615.50 192.52L615.50 190.52L613.50 190.52L613.50 188.52L615.50 188.52Z" fill="#228b22" stroke="#ffffff" stroke-width="1.2" stroke-linejoin="miter"/>
<path d="M691.36 185.71L693.36 185.71L693.36 187.71L695.36 187.71L695.36 189.71L693.36 189.71L693.36 191.71L691.36 191.71L691.36 189.71L689.36 189.71L689.36 187.71L691.36 187.71Z" fill="#228b22" stroke="#ffffff" stroke-width="1.2" stroke-linejoin="miter"/>
<path d="M767.23 219.08L769.23 219.08L769.23 221.08L771.23 221.08L771.23 223.08L769.23 223.08L769.23 225.08L767.23 225.08L767.23 223.08L765.23 223.08L765.23 221.08L767.23 221.08Z" fill="#228b22" stroke="#ffffff" stroke-width="1.2" stroke-linejoin="miter"/>
<polygon points="464.77,230.32 540.64,232.62 616.50,236.67 692.36,235.32 768.23,274.36 768.23,287.87 692.36,252.07 616.50,253.42 540.64,249.37 464.77,247.07" fill="#4169e1" fill-opacity="0.2"/>
<polyline points="464.77,238.70 540.64,240.99 616.50,245.05 692.36,243.70 768.23,281.12" fill="none" stroke="#4169e1" stroke-width="1.55" stroke-linejoin="round" stroke-linecap="butt"/>
<path d="M464.77 235.70L467.77 238.70L464.77 241.70L461.77 238.70Z" fill="#4169e1" stroke="#ffffff" stroke-width="1.2" stroke-linejoin="miter"/>
<path d="M540.64 237.99L543.64 240.99L540.64 243.99L537.64 240.99Z" fill="#4169e1" stroke="#ffffff" stroke-width="1.2" stroke-linejoin="miter"/>
<path d="M616.50 242.05L619.50 245.05L616.50 248.05L613.50 245.05Z" fill="#4169e1" stroke="#ffffff" stroke-width="1.2" stroke-linejoin="miter"/>
<path d="M692.36 240.70L695.36 243.70L692.36 246.70L689.36 243.70Z" fill="#4169e1" stroke="#ffffff" stroke-width="1.2" stroke-linejoin="miter"/>
<path d="M768.23 278.12L771.23 281.12L768.23 284.12L765.23 281.12Z" fill="#4169e1" stroke="#ffffff" stroke-width="1.2" stroke-linejoin="miter"/>
<polygon points="464.77,175.27 540.64,175.20 616.50,175.20 692.36,175.20 768.23,175.27 768.23,178.51 692.36,175.20 616.50,175.20 540.64,175.20 464.77,178.51" fill="#6a5acd" fill-opacity="0.2"/>
<polyline points="464.77,176.89 540.64,175.20 616.50,175.20 692.36,175.20 768.23,176.89" fill="none" stroke="#6a5acd" stroke-width="1.55" stroke-linejoin="round" stroke-linecap="butt"/>
<path d="M464.77 173.89L463.71 175.83L461.77 176.89L463.71 177.95L464.77 179.89L465.83 177.95L467.77 176.89L465.83 175.83Z" fill="#6a5acd" stroke="#ffffff" stroke-width="1.2" stroke-linejoin="bevel"/>
<path d="M540.64 172.20L539.58 174.14L537.64 175.20L539.58 176.26L540.64 178.20L541.70 176.26L543.64 175.20L541.70 174.14Z" fill="#6a5acd" stroke="#ffffff" stroke-width="1.2" stroke-linejoin="bevel"/>
<path d="M616.50 172.20L615.44 174.14L613.50 175.20L615.44 176.26L616.50 178.20L617.56 176.26L619.50 175.20L617.56 174.14Z" fill="#6a5acd" stroke="#ffffff" stroke-width="1.2" stroke-linejoin="bevel"/>
<path d="M692.36 172.20L691.30 174.14L689.36 175.20L691.30 176.26L692.36 178.20L693.42 176.26L695.36 175.20L693.42 174.14Z" fill="#6a5acd" stroke="#ffffff" stroke-width="1.2" stroke-linejoin="bevel"/>
<path d="M768.23 173.89L767.17 175.83L765.23 176.89L767.17 177.95L768.23 179.89L769.29 177.95L771.23 176.89L769.29 175.83Z" fill="#6a5acd" stroke="#ffffff" stroke-width="1.2" stroke-linejoin="bevel"/>
</g>
<rect x="449.60" y="168.20" width="333.80" height="148.70" fill="none" stroke="#cccccc" stroke-width="0.9"/>
<text x="443.10" y="314.09" font-size="9.7" fill="#262626" text-anchor="end" stroke="#262626" stroke-width="0.16" textLength="14.47" lengthAdjust="spacingAndGlyphs">0.0</text>
<text x="443.10" y="287.07" font-size="9.7" fill="#262626" text-anchor="end" stroke="#262626" stroke-width="0.16" textLength="14.47" lengthAdjust="spacingAndGlyphs">0.2</text>
<text x="443.10" y="260.05" font-size="9.7" fill="#262626" text-anchor="end" stroke="#262626" stroke-width="0.16" textLength="14.47" lengthAdjust="spacingAndGlyphs">0.4</text>
<text x="443.10" y="233.03" font-size="9.7" fill="#262626" text-anchor="end" stroke="#262626" stroke-width="0.16" textLength="14.47" lengthAdjust="spacingAndGlyphs">0.6</text>
<text x="443.10" y="206.01" font-size="9.7" fill="#262626" text-anchor="end" stroke="#262626" stroke-width="0.16" textLength="14.47" lengthAdjust="spacingAndGlyphs">0.8</text>
<text x="443.10" y="178.99" font-size="9.7" fill="#262626" text-anchor="end" stroke="#262626" stroke-width="0.16" textLength="14.47" lengthAdjust="spacingAndGlyphs">1.0</text>
<text x="68.35" y="331.00" font-size="9.7" fill="#262626" text-anchor="middle" stroke="#262626" stroke-width="0.16" textLength="5.79" lengthAdjust="spacingAndGlyphs">1</text>
<text x="144.13" y="331.00" font-size="9.7" fill="#262626" text-anchor="middle" stroke="#262626" stroke-width="0.16" textLength="5.79" lengthAdjust="spacingAndGlyphs">2</text>
<text x="219.90" y="331.00" font-size="9.7" fill="#262626" text-anchor="middle" stroke="#262626" stroke-width="0.16" textLength="5.79" lengthAdjust="spacingAndGlyphs">3</text>
<text x="295.67" y="331.00" font-size="9.7" fill="#262626" text-anchor="middle" stroke="#262626" stroke-width="0.16" textLength="5.79" lengthAdjust="spacingAndGlyphs">4</text>
<text x="371.45" y="331.00" font-size="9.7" fill="#262626" text-anchor="middle" stroke="#262626" stroke-width="0.16" textLength="5.79" lengthAdjust="spacingAndGlyphs">5</text>
<text x="219.90" y="343.80" font-size="9.7" fill="#262626" text-anchor="middle" font-weight="bold" stroke="#262626" stroke-width="0.45" textLength="72.57" lengthAdjust="spacingAndGlyphs">Urgency Level</text>
<text x="464.77" y="331.00" font-size="9.7" fill="#262626" text-anchor="middle" stroke="#262626" stroke-width="0.16" textLength="5.79" lengthAdjust="spacingAndGlyphs">1</text>
<text x="540.64" y="331.00" font-size="9.7" fill="#262626" text-anchor="middle" stroke="#262626" stroke-width="0.16" textLength="5.79" lengthAdjust="spacingAndGlyphs">2</text>
<text x="616.50" y="331.00" font-size="9.7" fill="#262626" text-anchor="middle" stroke="#262626" stroke-width="0.16" textLength="5.79" lengthAdjust="spacingAndGlyphs">3</text>
<text x="692.36" y="331.00" font-size="9.7" fill="#262626" text-anchor="middle" stroke="#262626" stroke-width="0.16" textLength="5.79" lengthAdjust="spacingAndGlyphs">4</text>
<text x="768.23" y="331.00" font-size="9.7" fill="#262626" text-anchor="middle" stroke="#262626" stroke-width="0.16" textLength="5.79" lengthAdjust="spacingAndGlyphs">5</text>
<text x="616.50" y="343.80" font-size="9.7" fill="#262626" text-anchor="middle" font-weight="bold" stroke="#262626" stroke-width="0.45" textLength="72.57" lengthAdjust="spacingAndGlyphs">Urgency Level</text>
<text x="17.10" y="84.65" font-size="10.6" fill="#262626" text-anchor="middle" font-weight="bold" stroke="#262626" stroke-width="0.45" textLength="100.96" lengthAdjust="spacingAndGlyphs" transform="rotate(-90 17.10 84.65)">Reasoning Tokens</text>
<text x="423.10" y="84.65" font-size="10.6" fill="#262626" text-anchor="middle" font-weight="bold" stroke="#262626" stroke-width="0.45" textLength="71.57" lengthAdjust="spacingAndGlyphs" transform="rotate(-90 423.10 84.65)">Refusal Rate</text>
<text x="26.20" y="242.55" font-size="10.6" fill="#262626" text-anchor="middle" font-weight="bold" stroke="#262626" stroke-width="0.45" textLength="154.20" lengthAdjust="spacingAndGlyphs" transform="rotate(-90 26.20 242.55)">Safety/Math Keyword Ratio</text>
<text x="423.10" y="242.55" font-size="10.6" fill="#262626" text-anchor="middle" font-weight="bold" stroke="#262626" stroke-width="0.45" textLength="148.20" lengthAdjust="spacingAndGlyphs" transform="rotate(-90 423.10 242.55)">MATH Answer Correctness</text>
<rect x="92.5" y="358.65" width="608.0" height="29.6" rx="2.2" ry="2.2" fill="#ffffff" stroke="#a2a2a2" stroke-width="1.1"/>
<line x1="95.50" x2="115.40" y1="366.30" y2="366.30" stroke="#f4a261" stroke-width="1.55"/>
<circle cx="105.45" cy="366.30" r="3.00" fill="#f4a261" stroke="#ffffff" stroke-width="1.2" stroke-linejoin="miter"/>
<text x="122.10" y="369.59" font-size="9.7" fill="#262626" text-anchor="start" stroke="#262626" stroke-width="0.16" textLength="84.04" lengthAdjust="spacingAndGlyphs">openai/gpt-5-nano</text>
<line x1="95.50" x2="115.40" y1="379.70" y2="379.70" stroke="#d2691e" stroke-width="1.55"/>
<path d="M103.95 376.70L105.45 378.20L106.95 376.70L108.45 378.20L106.95 379.70L108.45 381.20L106.95 382.70L105.45 381.20L103.95 382.70L102.45 381.20L103.95 379.70L102.45 378.20Z" fill="#d2691e" stroke="#ffffff" stroke-width="1.2" stroke-linejoin="miter"/>
<text x="122.10" y="382.99" font-size="9.7" fill="#262626" text-anchor="start" stroke="#262626" stroke-width="0.16" textLength="81.05" lengthAdjust="spacingAndGlyphs">openai/gpt-5-mini</text>
<line x1="224.40" x2="244.30" y1="366.30" y2="366.30" stroke="#dc143c" stroke-width="1.55"/>
<rect x="232.23" y="364.18" width="4.24" height="4.24" fill="#dc143c" stroke="#ffffff" stroke-width="1.2" stroke-linejoin="miter"/>
<text x="251.00" y="369.59" font-size="9.7" fill="#262626" text-anchor="start" stroke="#262626" stroke-width="0.16" textLength="122.09" lengthAdjust="spacingAndGlyphs">anthropic/claude-haiku-4.5</text>
<line x1="224.40" x2="244.30" y1="379.70" y2="379.70" stroke="#228b22" stroke-width="1.55"/>
<path d="M233.35 376.70L235.35 376.70L235.35 378.70L237.35 378.70L237.35 380.70L235.35 380.70L235.35 382.70L233.35 382.70L233.35 380.70L231.35 380.70L231.35 378.70L233.35 378.70Z" fill="#228b22" stroke="#ffffff" stroke-width="1.2" stroke-linejoin="miter"/>
<text x="251.00" y="382.99" font-size="9.7" fill="#262626" text-anchor="start" stroke="#262626" stroke-width="0.16" textLength="125.31" lengthAdjust="spacingAndGlyphs">google/gemini-2.5-flash-lite</text>
<line x1="394.80" x2="414.70" y1="366.30" y2="366.30" stroke="#4169e1" stroke-width="1.55"/>
<path d="M404.75 363.30L407.75 366.30L404.75 369.30L401.75 366.30Z" fill="#4169e1" stroke="#ffffff" stroke-width="1.2" stroke-linejoin="miter"/>
<text x="421.40" y="369.59" font-size="9.7" fill="#262626" text-anchor="start" stroke="#262626" stroke-width="0.16" textLength="150.68" lengthAdjust="spacingAndGlyphs">meta-llama/llama-3.1-8b-instruct</text>
<line x1="590.80" x2="610.70" y1="366.30" y2="366.30" stroke="#6a5acd" stroke-width="1.55"/>
<path d="M600.75 363.30L599.69 365.24L597.75 366.30L599.69 367.36L600.75 369.30L601.81 367.36L603.75 366.30L601.81 365.24Z" fill="#6a5acd" stroke="#ffffff" stroke-width="1.2" stroke-linejoin="bevel"/>
<text x="617.90" y="369.59" font-size="9.7" fill="#262626" text-anchor="start" stroke="#262626" stroke-width="0.16" textLength="78.67" lengthAdjust="spacingAndGlyphs">qwen/qwen3-32b</text>
</svg>
</body></html>
